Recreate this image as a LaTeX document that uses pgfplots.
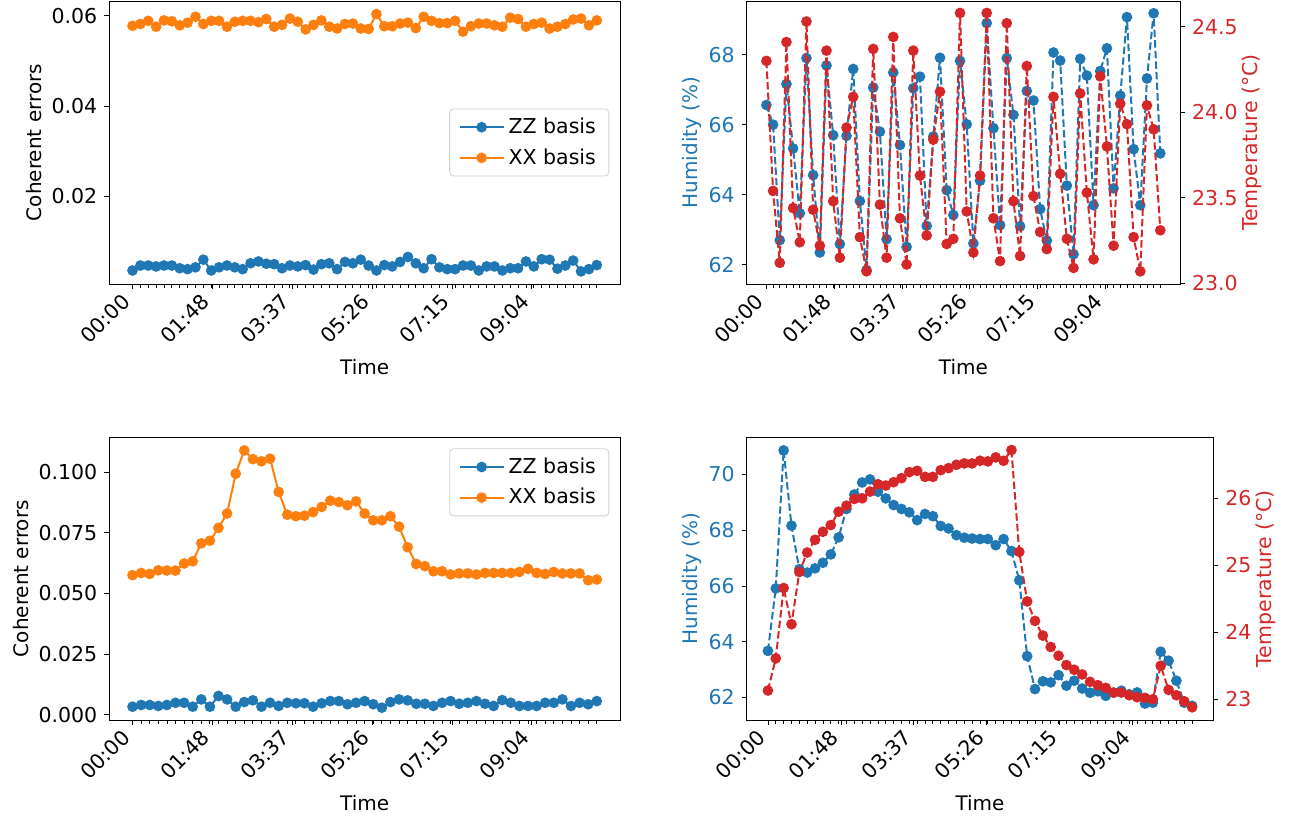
\documentclass[border=0pt]{standalone}
\usepackage{fontspec}
\setmainfont{DejaVu Sans}
\usepackage{pgfplots}
\usepackage{pgfplotstable}
\pgfplotsset{compat=1.18}
\definecolor{tabblue}{HTML}{1F77B4}
\definecolor{taborange}{HTML}{FF7F0E}
\definecolor{tabred}{HTML}{D62728}
\newcommand\fs{\fontsize{10.25}{12.3}\selectfont}

\pgfplotstableread{
i zz xx hum temp
0 0.0035 0.0578 66.56 24.30
1 0.0046 0.0582 66.00 23.54
2 0.0046 0.0589 62.70 23.12
3 0.0044 0.0576 67.16 24.41
4 0.0046 0.0590 65.32 23.44
5 0.0046 0.0588 63.47 23.24
6 0.0040 0.0579 67.90 24.53
7 0.0038 0.0585 64.56 23.43
8 0.0042 0.0598 62.35 23.22
9 0.0059 0.0582 67.69 24.36
10 0.0035 0.0589 65.70 23.48
11 0.0042 0.0589 62.59 23.15
12 0.0046 0.0576 65.68 23.91
13 0.0042 0.0587 67.59 24.09
14 0.0038 0.0589 63.82 23.27
15 0.0051 0.0589 61.85 23.07
16 0.0055 0.0586 67.06 24.37
17 0.0050 0.0593 65.80 23.46
18 0.0049 0.0576 62.73 23.15
19 0.0040 0.0580 67.49 24.44
20 0.0046 0.0594 65.42 23.38
21 0.0044 0.0587 62.51 23.11
22 0.0047 0.0570 67.04 24.36
23 0.0037 0.0580 67.37 23.63
24 0.0049 0.0590 63.11 23.28
25 0.0051 0.0576 65.66 23.84
26 0.0038 0.0572 67.91 24.12
27 0.0054 0.0582 64.13 23.23
28 0.0051 0.0583 63.42 23.26
29 0.0059 0.0572 67.82 24.58
30 0.0046 0.0571 66.01 23.42
31 0.0035 0.0604 62.61 23.18
32 0.0047 0.0577 64.40 23.63
33 0.0044 0.0577 68.90 24.58
34 0.0054 0.0583 65.90 23.38
35 0.0065 0.0585 63.13 23.13
36 0.0051 0.0573 67.90 24.52
37 0.0040 0.0598 66.28 23.48
38 0.0060 0.0589 63.10 23.16
39 0.0042 0.0584 66.96 24.27
40 0.0038 0.0584 66.69 23.51
41 0.0038 0.0589 63.59 23.30
42 0.0046 0.0565 62.69 23.20
43 0.0046 0.0577 68.06 24.09
44 0.0035 0.0583 67.83 23.64
45 0.0044 0.0583 64.26 23.26
46 0.0044 0.0579 62.30 23.09
47 0.0035 0.0576 67.88 24.11
48 0.0040 0.0596 67.40 23.53
49 0.0040 0.0593 63.70 23.14
50 0.0055 0.0576 67.53 24.21
51 0.0044 0.0582 68.18 23.80
52 0.0060 0.0585 64.18 23.22
53 0.0059 0.0572 66.83 24.05
54 0.0039 0.0576 69.07 23.93
55 0.0046 0.0582 65.30 23.27
56 0.0057 0.0592 63.70 23.07
57 0.0033 0.0594 67.32 24.04
58 0.0038 0.0579 69.18 23.90
59 0.0047 0.0590 65.18 23.31
}\topdata

\pgfplotstableread{
i zz xx hum temp
0 0.0033 0.0575 63.67 23.13
1 0.0040 0.0584 65.91 23.61
2 0.0040 0.0580 70.86 24.66
3 0.0036 0.0595 68.16 24.12
4 0.0040 0.0594 66.60 24.90
5 0.0049 0.0594 66.48 25.19
6 0.0049 0.0623 66.63 25.38
7 0.0033 0.0632 66.83 25.50
8 0.0063 0.0706 67.13 25.60
9 0.0033 0.0717 67.74 25.80
10 0.0077 0.0770 68.76 25.89
11 0.0063 0.0829 69.28 25.99
12 0.0033 0.0993 69.71 26.00
13 0.0052 0.1089 69.82 26.10
14 0.0059 0.1053 69.38 26.21
15 0.0033 0.1044 69.14 26.19
16 0.0049 0.1055 68.90 26.24
17 0.0036 0.0918 68.76 26.30
18 0.0049 0.0824 68.64 26.39
19 0.0047 0.0818 68.36 26.41
20 0.0047 0.0820 68.58 26.32
21 0.0033 0.0835 68.50 26.32
22 0.0047 0.0856 68.15 26.42
23 0.0056 0.0882 68.06 26.45
24 0.0056 0.0876 67.82 26.50
25 0.0043 0.0863 67.73 26.52
26 0.0049 0.0879 67.70 26.52
27 0.0056 0.0829 67.68 26.56
28 0.0043 0.0801 67.68 26.55
29 0.0029 0.0801 67.46 26.61
30 0.0052 0.0818 67.68 26.56
31 0.0063 0.0775 67.25 26.72
32 0.0059 0.0690 66.20 25.20
33 0.0045 0.0621 63.48 24.46
34 0.0045 0.0612 62.30 24.17
35 0.0036 0.0591 62.58 23.95
36 0.0049 0.0591 62.54 23.78
37 0.0056 0.0578 62.80 23.65
38 0.0045 0.0582 62.42 23.51
39 0.0049 0.0582 62.60 23.44
40 0.0056 0.0578 62.32 23.37
41 0.0045 0.0584 62.17 23.26
42 0.0036 0.0584 62.22 23.21
43 0.0060 0.0584 62.06 23.17
44 0.0049 0.0584 62.17 23.10
45 0.0036 0.0588 62.24 23.10
46 0.0036 0.0601 62.11 23.06
47 0.0036 0.0584 62.18 23.03
48 0.0049 0.0580 61.78 23.02
49 0.0049 0.0588 61.81 23.00
50 0.0063 0.0582 63.64 23.50
51 0.0036 0.0582 63.32 23.14
52 0.0049 0.0582 62.60 23.06
53 0.0043 0.0554 61.81 22.97
54 0.0056 0.0557 61.70 22.88
}\botdata

\pgfplotsset{
  base/.style={
    scale only axis,
    anchor=north west,
    tick align=outside,
    xtick pos=left, ytick pos=left,
    major tick length=2.5pt,
    minor tick length=1.8pt,
    every tick/.style={black, line width=0.4pt},
    axis line style={line width=0.5pt},
    xticklabels={00:00,01:48,03:37,05:26,07:15,09:04},
    xticklabel style={xshift=-6pt, rotate=45, anchor=north east, inner sep=1pt, font=\fs},
    yticklabel style={font=\fs},
    label style={font=\fs},
    every axis x label/.style={at={(axis description cs:0.5,-0.2933)}, anchor=center},
    xlabel={Time},
  },
  top/.style={base, xmin=-2.95, xmax=61.95,
    xtick={0,10.15,20.3,30.45,40.6,50.75}, minor xtick={0,...,59}},
  bot/.style={base, xmin=-2.7, xmax=56.7,
    xtick={0,9.29,18.58,27.87,37.16,46.45}, minor xtick={0,...,54}},
  ser/.style={line width=1pt, color=#1, mark=*, mark size=2.15pt, mark options={solid, fill=#1, draw=#1}},
  dser/.style={ser=#1, dash pattern=on 3.7pt off 1.6pt},
  leg/.style={
    legend style={draw=black!18, rounded corners=2pt, font=\fs, inner xsep=4.5pt, inner ysep=2.5pt,
      row sep=2pt, /tikz/every even column/.append style={column sep=5pt}},
    legend cell align=left,
    legend image code/.code={\draw[mark repeat=2,mark phase=2] plot coordinates {(0pt,0pt) (11pt,0pt) (22pt,0pt)};},
  },
}

\begin{document}
\begin{tikzpicture}
\useasboundingbox (0,0) rectangle (646.5pt,-410.5pt);

% ---------- top left ----------
\begin{axis}[top, at={(54.65pt,-0.5pt)}, width=255.35pt, height=141.5pt,
  ymin=0.0005, ymax=0.0633, ytick={0.02,0.04,0.06}, yticklabels={0.02,0.04,0.06},
  ylabel={Coherent errors},
  every axis y label/.style={at={(axis description cs:-0.1474,0.5)}, rotate=90, anchor=center},
  leg, legend style={at={(0.979,0.5)}, anchor=east}]
\addplot[ser=tabblue] table[x=i, y=zz] {\topdata};
\addlegendentry{ZZ basis}
\addplot[ser=taborange] table[x=i, y=xx] {\topdata};
\addlegendentry{XX basis}
\end{axis}

% ---------- top right ----------
\begin{axis}[top, at={(373.35pt,-0.5pt)}, width=216.65pt, height=141.5pt,
  ymin=61.45, ymax=69.53, ytick={62,64,66,68}, yticklabels={62,64,66,68},
  yticklabel style={text=tabblue},
  ylabel={Humidity (\%)},
  every axis y label/.style={at={(axis description cs:-0.1269,0.5)}, rotate=90, anchor=center, text=tabblue}]
\addplot[dser=tabblue] table[x=i, y=hum] {\topdata};
\end{axis}
\begin{axis}[scale only axis, anchor=north west, at={(373.35pt,-0.5pt)}, width=216.65pt, height=141.5pt,
  xmin=-2.95, xmax=61.95, axis x line=none, axis y line*=right,
  tick align=outside, major tick length=2.5pt, every tick/.style={black, line width=0.4pt},
  axis line style={line width=0.5pt},
  ymin=22.996, ymax=24.65, ytick={23.0,23.5,24.0,24.5}, yticklabels={23.0,23.5,24.0,24.5},
  yticklabel style={font=\fs, text=tabred},
  ylabel={Temperature (°C)},
  every axis y label/.style={at={(axis description cs:1.1662,0.5)}, rotate=90, anchor=center, font=\fs, text=tabred}]
\addplot[dser=tabred] table[x=i, y=temp] {\topdata};
\end{axis}

% ---------- bottom left ----------
\begin{axis}[bot, at={(54.65pt,-218.65pt)}, width=255.35pt, height=141.35pt,
  ymin=-0.0022, ymax=0.1143, ytick={0,0.025,0.05,0.075,0.1},
  yticklabels={0.000,0.025,0.050,0.075,0.100},
  ylabel={Coherent errors},
  every axis y label/.style={at={(axis description cs:-0.1729,0.5)}, rotate=90, anchor=center},
  leg, legend style={at={(0.979,0.961)}, anchor=north east}]
\addplot[ser=tabblue] table[x=i, y=zz] {\botdata};
\addlegendentry{ZZ basis}
\addplot[ser=taborange] table[x=i, y=xx] {\botdata};
\addlegendentry{XX basis}
\end{axis}

% ---------- bottom right ----------
\begin{axis}[bot, at={(373.35pt,-218.65pt)}, width=233.3pt, height=141.35pt,
  ymin=61.19, ymax=71.33, ytick={62,64,66,68,70}, yticklabels={62,64,66,68,70},
  yticklabel style={text=tabblue},
  ylabel={Humidity (\%)},
  every axis y label/.style={at={(axis description cs:-0.1179,0.5)}, rotate=90, anchor=center, text=tabblue}]
\addplot[dser=tabblue] table[x=i, y=hum] {\botdata};
\end{axis}
\begin{axis}[scale only axis, anchor=north west, at={(373.35pt,-218.65pt)}, width=233.3pt, height=141.35pt,
  xmin=-2.7, xmax=56.7, axis x line=none, axis y line*=right,
  tick align=outside, major tick length=2.5pt, every tick/.style={black, line width=0.4pt},
  axis line style={line width=0.5pt},
  ymin=22.69, ymax=26.91, ytick={23,24,25,26}, yticklabels={23,24,25,26},
  yticklabel style={font=\fs, text=tabred},
  ylabel={Temperature (°C)},
  every axis y label/.style={at={(axis description cs:1.1129,0.5)}, rotate=90, anchor=center, font=\fs, text=tabred}]
\addplot[dser=tabred] table[x=i, y=temp] {\botdata};
\end{axis}
\end{tikzpicture}
\end{document}
